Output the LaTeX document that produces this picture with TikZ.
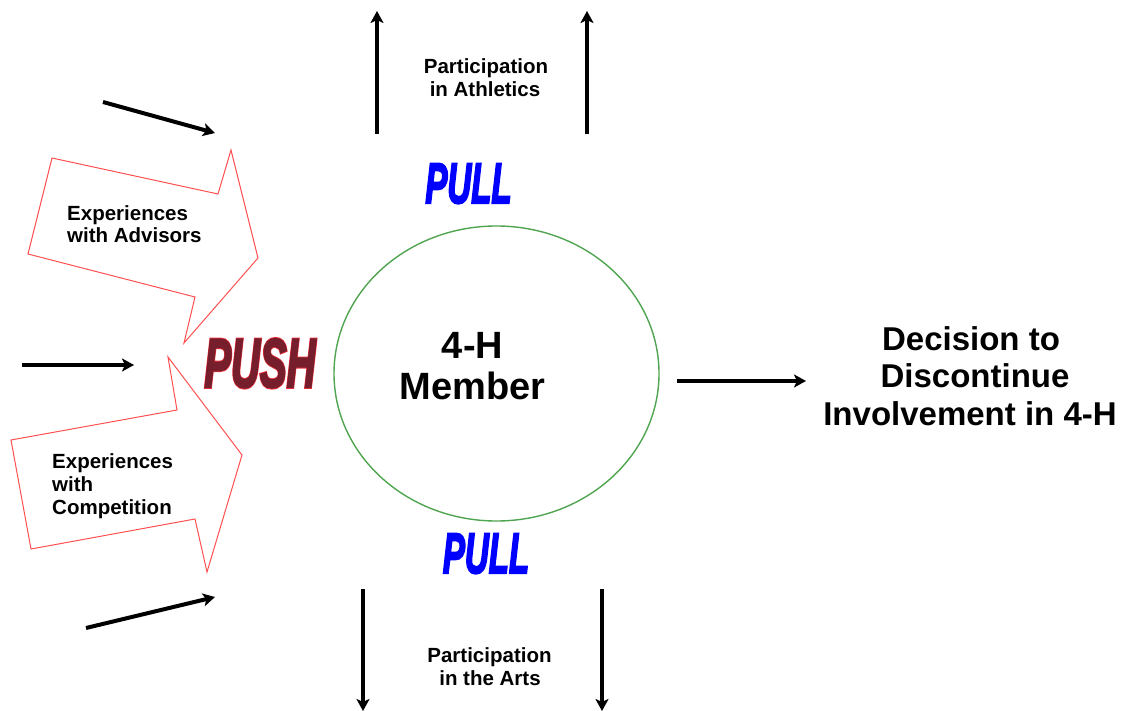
\documentclass[tikz,border=0pt]{standalone}
\usepackage{fontspec}
\setmainfont{Liberation Sans}
\newfontfamily\pullfont[FakeBold=4]{Liberation Sans Bold Italic}
\newfontfamily\pushout[FakeBold=5.5]{Liberation Sans Bold Italic}
\newfontfamily\pushin[FakeBold=3]{Liberation Sans Bold Italic}
\usetikzlibrary{arrows.meta,shapes.geometric}
\definecolor{ringgreen}{RGB}{80,165,80}
\definecolor{blockred}{RGB}{255,80,80}
\definecolor{pushdark}{RGB}{118,30,44}
\definecolor{pushedge}{RGB}{240,50,60}
\definecolor{pullblue}{RGB}{0,0,255}
\tikzset{
  force/.style={line width=4pt,-{Stealth[length=12pt,width=13pt,inset=3pt]}},
  blockarrow/.style={draw=blockred,line width=1pt,fill=white,line join=miter},
  smalltext/.style={font=\bfseries\fontsize{20.5}{23}\selectfont,inner sep=0pt},
  bigtext/.style={font=\bfseries\fontsize{38}{41}\selectfont,inner sep=0pt},
  dectext/.style={font=\bfseries\fontsize{33}{37}\selectfont,inner sep=0pt},
}
\begin{document}
\begin{tikzpicture}[x=1pt,y=-1pt]
\useasboundingbox (0,0) rectangle (1129,711);

% block arrows
\draw[blockarrow] (52,158) -- (218,194) -- (231,150) -- (258,258) -- (184,343) -- (195,297) -- (28,254) -- cycle;
\draw[blockarrow] (11,440) -- (177,410) -- (168,357) -- (242,455) -- (207,572) -- (195,519) -- (31,549) -- cycle;

\node[smalltext,anchor=base west] (adv1) at (67,221) {Experiences};
\node[smalltext,anchor=base west] (adv2) at (67,243) {with Advisors};
\node[smalltext,anchor=base west] (comp1) at (52,468) {Experiences};
\node[smalltext,anchor=base west] (comp2) at (52,491) {with};
\node[smalltext,anchor=base west] (comp3) at (52,514) {Competition};

% member ellipse
\node[ellipse,draw=ringgreen,line width=1.4pt,minimum width=325pt,minimum height=295pt,inner sep=0pt] (member) at (496.5,373.5) {};
\node[bigtext,anchor=base] (m1) at (472.5,358) {4-H};
\node[bigtext,anchor=base] (m2) at (472.5,399) {Member};

% decision
\node[dectext,anchor=base] (d1) at (971,350) {Decision to};
\node[dectext,anchor=base] (d2) at (975,387) {Discontinue};
\node[dectext,anchor=base] (d3) at (970,425) {Involvement in 4-H};

% athletics / arts
\node[smalltext,anchor=base] (ath1) at (486,74) {Participation};
\node[smalltext,anchor=base] (ath2) at (485,97) {in Athletics};
\node[smalltext,anchor=base] (art1) at (489.5,662) {Participation};
\node[smalltext,anchor=base] (art2) at (490,685) {in the Arts};

% PULL / PUSH
\node[inner sep=0pt,anchor=base,text=pullblue] (pulltop) at (468.5,203) {\scalebox{0.58}[1]{\pullfont\fontsize{57}{57}\selectfont PULL}};
\node[inner sep=0pt,anchor=base,text=pullblue] (pullbot) at (486,573) {\scalebox{0.58}[1]{\pullfont\fontsize{57}{57}\selectfont PULL}};
\node[inner sep=0pt,anchor=base,text=pushedge] (pushb) at (260,387) {\scalebox{0.58}[1]{\pushout\fontsize{69}{69}\selectfont PUSH}};
\node[inner sep=0pt,anchor=base,text=pushdark] (push) at (260,387) {\scalebox{0.58}[1]{\pushin\fontsize{69}{69}\selectfont PUSH}};

% arrow end points
\coordinate (a1s) at (103,102); \coordinate (a1e) at (215,133);
\coordinate (a2s) at (22,365);  \coordinate (a2e) at (134,365);
\coordinate (a3s) at (86,628);  \coordinate (a3e) at (215,597);
\coordinate (t1s) at (377,134); \coordinate (t1e) at (377,11);
\coordinate (t2s) at (587,134); \coordinate (t2e) at (587,11);
\coordinate (b1s) at (363,589); \coordinate (b1e) at (363,711);
\coordinate (b2s) at (602,589); \coordinate (b2e) at (602,711);
\coordinate (rs) at (677,381);  \coordinate (re) at (806,381);

\draw[force] (a1s) -- (a1e);
\draw[force] (a2s) -- (a2e);
\draw[force] (a3s) -- (a3e);
\draw[force] (t1s) -- (t1e);
\draw[force] (t2s) -- (t2e);
\draw[force] (b1s) -- (b1e);
\draw[force] (b2s) -- (b2e);
\draw[force] (rs) -- (re);
\end{tikzpicture}
\end{document}
